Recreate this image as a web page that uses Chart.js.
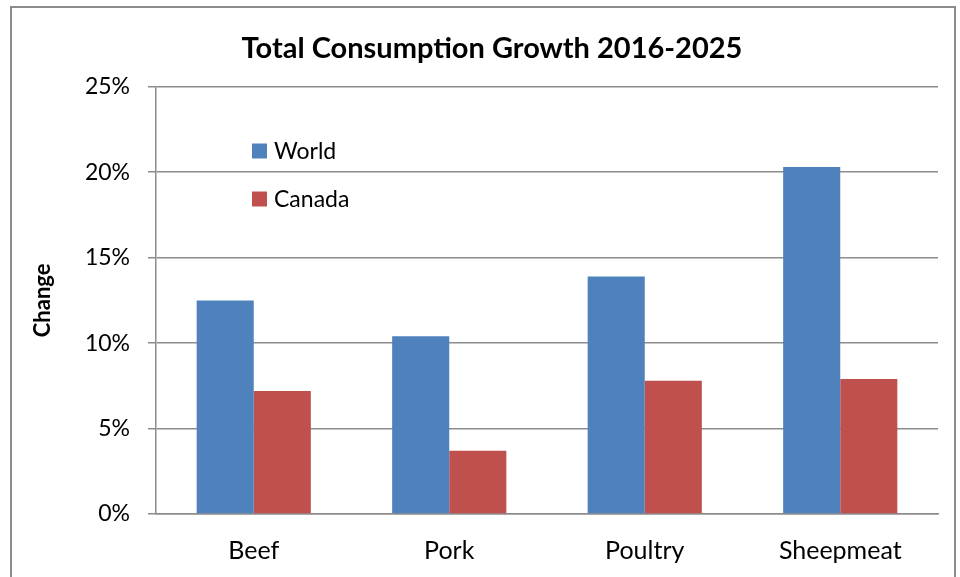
<!DOCTYPE html>
<html>
<head>
<meta charset="utf-8">
<title>Total Consumption Growth 2016-2025</title>
<script src="https://cdn.jsdelivr.net/npm/chart.js@4"></script>
<style>
  html, body { margin: 0; padding: 0; background: #fff; overflow: hidden; }
  #wrap { position: relative; width: 960px; height: 577px; }
  #frame {
    position: absolute; left: 10px; top: 6px; width: 946px; height: 620px;
    border: 2px solid #8c8c8c; box-sizing: border-box;
  }
  canvas { position: absolute; left: 0; top: 0; }
</style>
</head>
<body>
<div id="wrap">
  <div id="frame"></div>
  <canvas id="growthChart" width="960" height="577"></canvas>
</div>
<script>
const meats = ["Beef", "Pork", "Poultry", "Sheepmeat"];
const worldGrowth = [12.5, 10.4, 13.9, 20.3];
const canadaGrowth = [7.2, 3.7, 7.8, 7.9];
const seriesNames = ["World", "Canada"];
const seriesColors = ["#4F81BD", "#C0504D"];

const FONT = "Lato, 'Open Sans', sans-serif";
const GRID = "#8c8c8c";

// legend sits inside the plot, stacked vertically
const insideLegend = {
    id: "insideLegend",
    afterDraw(chart) {
        const ctx = chart.ctx;
        ctx.save();
        ctx.font = "23px " + FONT;
        ctx.textBaseline = "middle";
        chart.data.datasets.forEach((ds, i) => {
            const y = 151 + i * 48;
            ctx.fillStyle = ds.backgroundColor;
            ctx.fillRect(252, y - 7.5, 15, 15);
            ctx.fillStyle = "#000";
            ctx.fillText(ds.label, 274, y + 1);
        });
        ctx.restore();
    }
};

new Chart(document.getElementById("growthChart"), {
    type: "bar",
    data: {
        labels: meats,
        datasets: [
            { label: seriesNames[0], data: worldGrowth, backgroundColor: seriesColors[0] },
            { label: seriesNames[1], data: canadaGrowth, backgroundColor: seriesColors[1] }
        ]
    },
    options: {
        responsive: false,
        animation: false,
        categoryPercentage: 0.584,
        barPercentage: 1,
        // left padding pushes the title centre right; y axis width makes up for it
        layout: { padding: { left: 46, right: 22, top: 0, bottom: 0 } },
        plugins: {
            legend: { display: false },
            tooltip: { enabled: false },
            title: {
                display: true,
                text: "Total Consumption Growth 2016-2025",
                color: "#000",
                font: { family: FONT, size: 29, weight: "bold" },
                padding: { top: 31, bottom: 21 }
            }
        },
        scales: {
            x: {
                afterFit(scale) { scale.height = 63; },
                grid: { display: false },
                border: { display: true, color: GRID, width: 1.5 },
                ticks: { color: "#000", font: { family: FONT, size: 25 }, padding: 14 }
            },
            y: {
                min: 0,
                max: 25,
                afterFit(scale) { scale.width = 110; },
                grid: { color: GRID, lineWidth: 1.5, tickLength: 8, drawTicks: true },
                border: { display: true, color: GRID, width: 1.5 },
                ticks: {
                    stepSize: 5,
                    padding: 18,
                    color: "#000",
                    font: { family: FONT, size: 23 },
                    callback: v => v + "%"
                },
                title: {
                    display: true,
                    text: "Change",
                    color: "#000",
                    font: { family: FONT, size: 22, weight: "bold" },
                    padding: { top: -16, bottom: 0 }
                }
            }
        }
    },
    plugins: [insideLegend]
});
</script>
</body>
</html>
